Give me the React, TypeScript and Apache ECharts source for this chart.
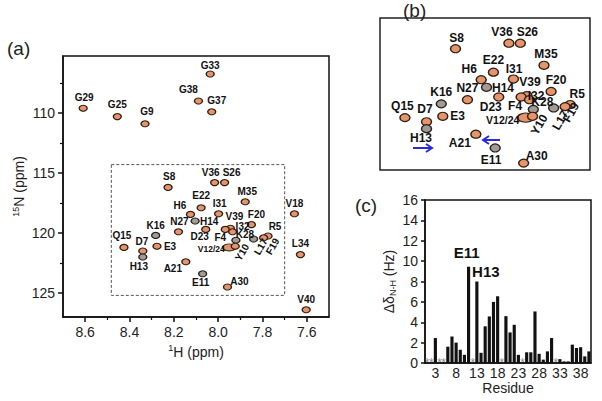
import React, { useEffect, useRef } from "react";
import * as echarts from "echarts";

// ---------- data ----------
const PEAK_NAMES = ["G29","G25","G9","G38","G33","G37","S8","V36","S26","M35","E22","V18","H6","I31","H14","V39","F20","D23","F4","I32","K28","R5","L17","F19","V12/24","Y10","L34","A21","E11","A30","V40","Q15","D7","H13","K16","E3","N27"];
const PEAK_H_PPM = [8.609,8.455,8.33,8.089,8.036,8.029,8.226,8.016,7.971,7.878,8.077,7.656,8.125,7.998,8.104,7.945,7.85,8.056,7.968,7.935,7.92,7.775,7.84,7.795,7.95,7.923,7.629,8.146,8.07,7.958,7.603,8.425,8.34,8.34,8.282,8.276,8.179];
const PEAK_N_PPM = [109.6,110.3,110.9,109.0,106.75,109.9,116.2,115.8,115.8,117.4,117.9,118.4,118.45,118.4,119.0,119.6,119.3,119.7,119.7,119.9,120.6,120.25,120.5,120.4,121.2,121.1,121.8,122.4,123.4,124.5,126.4,121.2,121.5,122.0,120.2,121.1,119.9];

const H_TICKS = [7.6, 7.8, 8.0, 8.2, 8.4, 8.6];
const H_MINOR_TICKS = [7.7, 7.9, 8.1, 8.3, 8.5];
const N_TICKS = [110, 115, 120, 125];
const N_MINOR_TICKS = [107.5, 112.5, 117.5, 122.5];

const ZOOM_BOX_H = [8.482, 7.70];
const ZOOM_BOX_N = [114.3, 125.2];
const INSET_H_RANGE = [7.697, 8.523];
const INSET_N_RANGE = [113.97, 125.0];

const RESIDUES = ["1","2","3","4","5","6","7","8","9","10","11","12","13","14","15","16","17","18","19","20","21","22","23","24","25","26","27","28","29","30","31","32","33","34","35","36","37","38","39","40"];
const DELTA_NH: (number | null)[] = [null,null,2.45,null,null,1.6,2.6,2.0,1.3,0.8,9.45,null,8.0,1.0,3.6,4.57,6.0,6.55,null,4.6,3.0,3.75,0.8,null,1.05,1.05,5.06,0.9,0.33,1.14,2.45,null,0.38,0.16,0.16,1.8,1.47,1.55,0.65,1.14];
const RESIDUE_TICKS = ["3","8","13","18","23","28","33","38"];
const NOTE_RESIDUES = ["11", "13"];
const NOTE_TEXTS = ["E11", "H13"];

// ---------- styles / layout ----------
const FONT = "'Liberation Sans', Arial, Helvetica, sans-serif";
const ORANGE = "#e6956a";
const EDGE = "#2e1e14";
const GREY_PEAKS = new Set(["K16", "H14", "L17", "H13", "K28", "E11"]);
const ROTATED = new Set(["Y10", "L17", "F19"]);

const LABEL_A: Record<string, [number, number]> = {
  G29: [1, -11], G25: [0, -12.5], G9: [2, -12], G38: [-10, -12], G33: [0, -9], G37: [5, -11],
  S8: [1, -10.5], V36: [-4, -10], S26: [7, -10], M35: [2, -10.5], E22: [0, -12], V18: [0, -10],
  H6: [-10.5, -9], I31: [1, -10], H14: [14, 0], V39: [4, -11.5], F20: [5, -10], N27: [1, -10],
  D23: [-6, 7.5], F4: [-5, 8], I32: [10, -5], K28: [9, -6], R5: [7, -10], L17: [-3, 10],
  F19: [-3, 12], Y10: [-2, 9], "V12/24": [-18, 2], L34: [0, -11], A21: [-13, 6.5], E11: [-2, 9],
  A30: [12, -6], V40: [0, -10], Q15: [-2, -11.5], D7: [-1, -10], K16: [0, -10], E3: [13, 0], H13: [-4, 9],
};
const LABEL_B: Record<string, [number, number]> = {
  S8: [1, -11], V36: [-7, -11], S26: [7, -11], M35: [2, -11], E22: [0, -12], H6: [-12, -10.5],
  I31: [0.5, -10], V39: [3, -14], F20: [5, -11], K16: [0, -12], N27: [0, -11.5], H14: [16.5, 1],
  R5: [7, -11], Q15: [-2.5, -11.7], D7: [-1.5, -12.5], E3: [14.7, 0], D23: [-8, 10], F4: [-6, 9.5],
  I32: [6.5, -4], K28: [9, -7.7], "V12/24": [-23, 2], Y10: [-4, 10], L17: [-7, 12], F19: [-2, 8],
  H13: [-5.5, 9.6], A21: [-16, 8.5], E11: [-4, 12], A30: [13, -7],
};

function peakData(offsets: Record<string, [number, number]>, size: [number, number], big: [number, number], fs: number, fsSmall: number, hRange?: number[], nRange?: number[]) {
  const out: any[] = [];
  PEAK_NAMES.forEach((name, i) => {
    const h = PEAK_H_PPM[i];
    const n = PEAK_N_PPM[i];
    if (hRange && (h < hRange[0] || h > hRange[1])) return;
    if (nRange && (n < nRange[0] || n > nRange[1])) return;
    const grey = GREY_PEAKS.has(name);
    out.push({
      name,
      value: [h, n],
      symbolSize: name === "V12/24" ? big : size,
      itemStyle: { color: grey ? "#a49a94" : ORANGE, borderColor: grey ? "#222" : EDGE },
      label: {
        offset: offsets[name] || [0, -10],
        rotate: ROTATED.has(name) ? 60 : 0,
        fontSize: name === "V12/24" ? fsSmall : fs,
      },
    });
  });
  return out;
}

function buildOption(): any {
  const lineStyle = { color: "#111", width: 1.5 };
  const tickLbl = { fontSize: 14, color: "#222", fontFamily: FONT };
  const nameStyle = {
    fontSize: 14, color: "#222", fontFamily: FONT,
    rich: {
      sup: { fontSize: 9, color: "#222", fontFamily: FONT, padding: [0, 0, 7, 0] },
      sub: { fontSize: 9, color: "#222", fontFamily: FONT, padding: [7, 0, 0, 0] },
    },
  };
  const peakLabel = { show: true, position: "inside", formatter: "{b}", fontWeight: "bold", color: "#111", fontFamily: FONT };

  return {
    animation: false,
    backgroundColor: "#fff",
    grid: [
      { left: 63, top: 56, width: 266, height: 261, show: true, borderColor: "#111", borderWidth: 1.5, backgroundColor: "transparent" },
      { left: 380, top: 18, width: 210, height: 152, show: true, borderColor: "#222", borderWidth: 1.5, backgroundColor: "transparent" },
      { left: 425, top: 200, width: 166, height: 163, show: true, borderColor: "#111", borderWidth: 1.5, backgroundColor: "transparent" },
    ],
    xAxis: [
      {
        gridIndex: 0, type: "value", inverse: true, min: 7.5, max: 8.7, position: "bottom",
        axisLine: { show: true, onZero: false, lineStyle },
        axisTick: { show: true, length: 5, customValues: H_TICKS, lineStyle },
        axisLabel: { customValues: H_TICKS, formatter: (v: number) => v.toFixed(1), margin: 8, ...tickLbl },
        splitLine: { show: false },
        name: "{sup|1}H (ppm)", nameLocation: "middle", nameGap: 26, nameTextStyle: nameStyle,
      },
      {
        gridIndex: 0, type: "value", inverse: true, min: 7.5, max: 8.7, position: "bottom",
        axisLine: { show: false },
        axisTick: { show: true, length: 3, customValues: H_MINOR_TICKS, lineStyle: { color: "#111", width: 1.2 } },
        axisLabel: { show: false }, splitLine: { show: false },
      },
      { gridIndex: 1, type: "value", inverse: true, min: INSET_H_RANGE[0], max: INSET_H_RANGE[1], show: false, splitLine: { show: false } },
      {
        gridIndex: 2, type: "category", data: RESIDUES, position: "bottom",
        axisLine: { show: true, onZero: false, lineStyle },
        axisTick: { show: false },
        axisLabel: { interval: (_i: number, v: string) => RESIDUE_TICKS.includes(v), margin: 3, ...tickLbl },
        name: "Residue", nameLocation: "middle", nameGap: 16, nameTextStyle: nameStyle,
      },
    ],
    yAxis: [
      {
        gridIndex: 0, type: "value", inverse: true, min: 105.25, max: 127, position: "left",
        axisLine: { show: true, onZero: false, lineStyle },
        axisTick: { show: true, length: 5, customValues: N_TICKS, lineStyle },
        axisLabel: { customValues: N_TICKS, margin: 8, ...tickLbl },
        splitLine: { show: false },
        name: "{sup|15}N (ppm)", nameLocation: "middle", nameRotate: 90, nameGap: 36, nameTextStyle: nameStyle,
      },
      {
        gridIndex: 0, type: "value", inverse: true, min: 105.25, max: 127, position: "left",
        axisLine: { show: false },
        axisTick: { show: true, length: 3, customValues: N_MINOR_TICKS, lineStyle: { color: "#111", width: 1.2 } },
        axisLabel: { show: false }, splitLine: { show: false },
      },
      { gridIndex: 1, type: "value", inverse: true, min: INSET_N_RANGE[0], max: INSET_N_RANGE[1], show: false, splitLine: { show: false } },
      {
        gridIndex: 2, type: "value", min: 0, max: 16, interval: 2, position: "left",
        axisLine: { show: true, onZero: false, lineStyle },
        axisTick: { show: true, length: 4, lineStyle },
        axisLabel: { margin: 7, ...tickLbl },
        splitLine: { show: false },
        name: "Δδ{sub|N-H} (Hz)", nameLocation: "middle", nameRotate: 90, nameGap: 28, nameTextStyle: nameStyle,
      },
    ],
    series: [
      {
        type: "scatter", xAxisIndex: 0, yAxisIndex: 0, symbol: "circle",
        data: peakData(LABEL_A, [8, 6], [13, 7], 10, 8.5),
        itemStyle: { color: ORANGE, borderColor: EDGE, borderWidth: 1.2, opacity: 1 },
        label: { ...peakLabel, fontSize: 10 },
        markArea: {
          silent: true,
          itemStyle: { color: "rgba(0,0,0,0)", borderColor: "#555", borderWidth: 1, borderType: [3, 2] },
          data: [[{ xAxis: ZOOM_BOX_H[0], yAxis: ZOOM_BOX_N[0] }, { xAxis: ZOOM_BOX_H[1], yAxis: ZOOM_BOX_N[1] }]],
        },
      },
      {
        type: "scatter", xAxisIndex: 2, yAxisIndex: 2, symbol: "circle",
        data: peakData(LABEL_B, [10, 8], [16, 9], 12, 10.5, INSET_H_RANGE, INSET_N_RANGE),
        itemStyle: { color: ORANGE, borderColor: EDGE, borderWidth: 1.3, opacity: 1 },
        label: { ...peakLabel, fontSize: 12 },
      },
      {
        type: "bar", xAxisIndex: 3, yAxisIndex: 3, barWidth: "76%",
        itemStyle: { color: "#111" },
        data: DELTA_NH.map((v, i) => {
          const k = NOTE_RESIDUES.indexOf(RESIDUES[i]);
          if (v === null) return "-";
          if (k < 0) return v;
          return {
            value: v,
            label: {
              show: true, position: "top", distance: 5, formatter: NOTE_TEXTS[k],
              offset: k === 0 ? [-2, -2] : [9, 2],
              fontSize: 15, fontWeight: "bold", color: "#111", fontFamily: FONT,
            },
          };
        }),
      },
      {
        type: "scatter", xAxisIndex: 3, yAxisIndex: 3, symbolSize: 1,
        itemStyle: { color: "rgba(0,0,0,0)" },
        data: RESIDUES.filter((_r, i) => DELTA_NH[i] === null).map((r) => [r, 0]),
        label: { show: true, position: "inside", formatter: "*", fontSize: 12, color: "#666", fontFamily: FONT, offset: [0, 1] },
        labelLayout: { hideOverlap: false },
      },
    ],
    graphic: [
      { type: "text", x: 7, y: 48.5, style: { text: "(a)", fontSize: 19, fontFamily: FONT, fill: "#222", verticalAlign: "middle" } },
      { type: "text", x: 403, y: 10, style: { text: "(b)", fontSize: 19, fontFamily: FONT, fill: "#222", verticalAlign: "middle" } },
      { type: "text", x: 355, y: 205, style: { text: "(c)", fontSize: 19, fontFamily: FONT, fill: "#222", verticalAlign: "middle" } },
      { type: "line", shape: { x1: 413, y1: 148, x2: 432, y2: 148 }, style: { stroke: "#2a2ad8", lineWidth: 2 } },
      { type: "polyline", shape: { points: [[426, 144], [432, 148], [426, 152]] }, style: { stroke: "#2a2ad8", lineWidth: 2, fill: null } },
      { type: "line", shape: { x1: 483, y1: 140, x2: 500, y2: 140 }, style: { stroke: "#2a2ad8", lineWidth: 2 } },
      { type: "polyline", shape: { points: [[489, 136], [483, 140], [489, 144]] }, style: { stroke: "#2a2ad8", lineWidth: 2, fill: null } },
    ],
  };
}

export default function App() {
  const ref = useRef<HTMLDivElement>(null);
  useEffect(() => {
    if (!ref.current) return;
    const chart = echarts.init(ref.current, null, { renderer: "svg" });
    chart.setOption(buildOption());
    return () => chart.dispose();
  }, []);
  return (
    <div
      ref={ref}
      style={{ position: "fixed", left: 0, top: 0, width: 602, height: 401, background: "#fff" }}
    />
  );
}
